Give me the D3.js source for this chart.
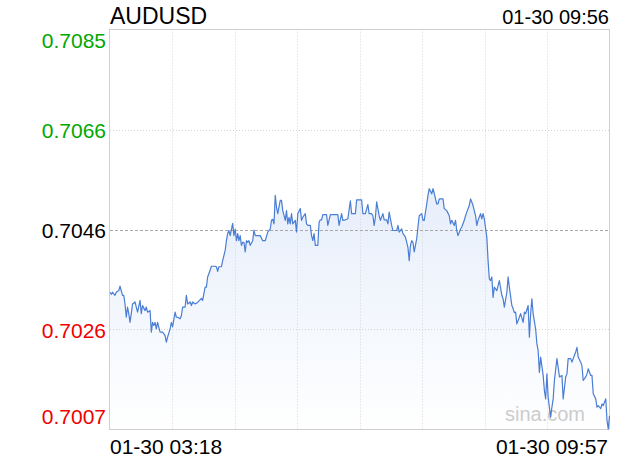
<!DOCTYPE html>
<html>
<head>
<meta charset="utf-8">
<script src="https://cdn.jsdelivr.net/npm/d3@7/dist/d3.min.js"></script>
<style>
  html, body { margin: 0; padding: 0; background: #fff; }
  svg { display: block; font-family: "Liberation Sans", Arial, Helvetica, sans-serif; }
</style>
</head>
<body>
<svg id="chart" width="620" height="460"></svg>
<script>
// ---- data ----
const symbol = "AUDUSD";
const updateTime = "01-30 09:56";
const xTickLabels = ["01-30 03:18", "01-30 09:57"];
const prevClose = 0.7046;
const yTickValues = [0.70852, 0.70656, 0.70460, 0.70264, 0.70068];
const totalMinutes = 399; // 03:18 -> 09:57
const minutes = [0,1,2,4,5,6,7,8,9,10,11,12,13,14,15,16,17,18,20,21,22,24,25,26,28,29,30,32,33,34,35,36,37,38,40,41,42,44,45,46,48,49,50,52,53,54,56,57,58,60,61,62,64,65,66,68,70,73,
74,76,77,78,80,81,84,85,86,87,89,90,92,93,94,95,96,98,99,100,101,102,103,104,105,106,107,108,109,110,111,112,114,115,116,118,120,122,124,126,128,129,130,131,132,133,134,136,137,138,140,141,142,143,144,145,146,148,149,150,152,153,154,156,157,158,160,161,162,163,164,166,167,168,169,170,173,174,176,182,183,185,186,188,190,192,193,196,197,201,202,204,206,207,209,210,211,212,213,215,216,218,219,221,222,223,225,226,229,230,231,233,234,236,238,239,240,241,242,243,245,246,247,249,250,251,253,254,255,257,258,259,261,262,263,266,267,269,271,272,273,275,276,277,278,280,281,283,284,285,287,288,289,290,292,293,294,296,297,298,299,301,302,303,304,305,306,307,309,310,311,313,314,315,317,318,319,321,322,323,
324,325,327,328,330,331,332,334,335,336,337,338,340,341,342,343,344,346,347,348,349,350,352,353,354,355,357,358,359,361,362,364,365,366,368,369,370,372,373,374,376,377,378,380,381,382,384,385,386,388,389,390,392,393,394,396,397,398,399];
const prices = [0.70337,0.70333,0.70337,0.70331,0.70337,0.70339,0.70340,0.70349,0.70340,0.70331,0.70331,0.70314,0.70288,0.70308,0.70295,0.70278,0.70295,0.70314,0.70318,0.70308,0.70298,0.70321,0.70295,0.70311,0.70301,0.70308,0.70298,0.70301,0.70259,0.70278,0.70272,0.70278,0.70265,0.70278,0.70259,0.70259,0.70259,0.70252,0.70239,0.70249,0.70265,0.70278,0.70269,0.70298,0.70288,0.70288,0.70285,0.70291,0.70308,0.70308,0.70331,0.70314,0.70318,0.70311,0.70318,0.70314,0.70317,0.70325,
0.70321,0.70347,0.70347,0.70367,0.70380,0.70388,0.70388,0.70387,0.70378,0.70387,0.70387,0.70399,0.70419,0.70438,0.70452,0.70458,0.70448,0.70472,0.70448,0.70461,0.70438,0.70452,0.70438,0.70448,0.70429,0.70435,0.70435,0.70416,0.70438,0.70435,0.70438,0.70429,0.70438,0.70459,0.70448,0.70448,0.70448,0.70438,0.70438,0.70455,0.70461,0.70478,0.70480,0.70471,0.70527,0.70504,0.70491,0.70517,0.70517,0.70497,0.70478,0.70497,0.70471,0.70484,0.70471,0.70491,0.70471,0.70478,0.70455,0.70491,0.70501,0.70478,0.70484,0.70491,0.70471,0.70468,0.70468,0.70448,0.70438,0.70452,0.70429,0.70429,0.70474,0.70479,0.70479,0.70489,0.70489,0.70468,0.70489,0.70489,0.70468,0.70491,0.70478,0.70479,0.70481,0.70516,0.70491,0.70491,0.70518,0.70518,0.70491,0.70491,0.70509,0.70491,0.70491,0.70487,0.70468,0.70484,0.70514,0.70487,0.70478,0.70491,0.70479,0.70479,0.70471,0.70494,0.70468,0.70458,0.70458,0.70468,0.70455,0.70461,0.70452,0.70445,0.70425,0.70399,0.70429,0.70438,0.70435,0.70416,0.70442,0.70465,0.70487,0.70491,0.70478,0.70478,0.70510,0.70527,0.70540,0.70530,0.70540,0.70531,0.70510,0.70510,0.70520,0.70520,0.70501,0.70497,0.70487,0.70471,0.70478,0.70468,0.70478,0.70458,0.70448,0.70461,0.70465,0.70478,0.70487,0.70494,0.70507,0.70520,0.70514,0.70507,0.70487,0.70468,0.70478,0.70491,0.70481,0.70491,0.70481,0.70445,0.70399,0.70363,0.70360,0.70367,0.70327,0.70347,0.70340,0.70350,0.70360,0.70331,0.70324,0.70308,0.70337,0.70367,0.70347,0.70311,0.70305,0.70297,
0.70298,0.70275,0.70288,0.70295,0.70278,0.70298,0.70295,0.70311,0.70249,0.70295,0.70324,0.70295,0.70265,0.70236,0.70223,0.70180,0.70210,0.70174,0.70144,0.70128,0.70177,0.70131,0.70092,0.70112,0.70128,0.70164,0.70207,0.70190,0.70171,0.70174,0.70128,0.70171,0.70177,0.70207,0.70207,0.70200,0.70207,0.70220,0.70229,0.70210,0.70200,0.70193,0.70164,0.70171,0.70177,0.70187,0.70174,0.70174,0.70138,0.70128,0.70112,0.70115,0.70109,0.70118,0.70115,0.70128,0.70086,0.70069,0.70095];

// ---- layout ----
const W = 620, H = 460;
const m = { left: 110, right: 610, top: 29.5, bottom: 429.5 };
const font = '"Liberation Sans", Arial, Helvetica, sans-serif';

const svg = d3.select("#chart");
const x = d3.scaleLinear().domain([0, totalMinutes]).range([m.left, m.right - 0.5]);
const y = d3.scaleLinear().domain([yTickValues[yTickValues.length - 1], yTickValues[0]]).range([m.bottom, m.top]);

const data = minutes.map((t, i) => ({ t, v: prices[i] }));

// gradient
const defs = svg.append("defs");
const grad = defs.append("linearGradient").attr("id", "areaGrad")
  .attr("gradientUnits", "userSpaceOnUse")
  .attr("x1", 0).attr("x2", 0).attr("y1", m.top).attr("y2", m.bottom);
grad.append("stop").attr("offset", "0%").attr("stop-color", "#d6e3f8");
grad.append("stop").attr("offset", "100%").attr("stop-color", "#ffffff");

// area
svg.append("path").datum(data)
  .attr("fill", "url(#areaGrad)")
  .attr("d", d3.area().x(d => x(d.t)).y0(m.bottom).y1(d => y(d.v)));

// vertical grid (8 divisions)
const xDiv = d3.range(1, 8).map(i => totalMinutes * i / 8);
svg.append("g").selectAll("line").data(xDiv).join("line")
  .attr("x1", d => Math.round(x(d)) + 0.5).attr("x2", d => Math.round(x(d)) + 0.5)
  .attr("y1", m.top).attr("y2", m.bottom)
  .attr("stroke", "#d4d4d4").attr("stroke-width", 1).attr("stroke-dasharray", "1,2");

// horizontal grid
const innerY = yTickValues.slice(1, -1);
svg.append("g").selectAll("line").data(innerY).join("line")
  .attr("x1", m.left).attr("x2", m.right)
  .attr("y1", d => Math.round(y(d)) + 0.5).attr("y2", d => Math.round(y(d)) + 0.5)
  .attr("stroke", d => Math.abs(d - prevClose) < 1e-6 ? "#a8a8a8" : "#d4d4d4")
  .attr("stroke-width", 1)
  .attr("stroke-dasharray", d => Math.abs(d - prevClose) < 1e-6 ? "3,2" : "1,2");

// frame
svg.append("rect")
  .attr("x", m.left - 0.5).attr("y", m.top).attr("width", m.right - m.left).attr("height", m.bottom - m.top)
  .attr("fill", "none").attr("stroke", "#d0d0d0").attr("stroke-width", 1);

// watermark
svg.append("text").attr("x", 585).attr("y", 421).attr("text-anchor", "end")
  .attr("font-size", 20).attr("fill", "#cccccc").style("font-family", font).text("sina.com");

// line
svg.append("path").datum(data)
  .attr("fill", "none").attr("stroke", "#4a7dd4").attr("stroke-width", 1.2)
  .attr("stroke-linejoin", "round")
  .attr("d", d3.line().x(d => x(d.t)).y(d => y(d.v)));

// y labels
svg.append("g").selectAll("text").data(yTickValues).join("text")
  .attr("x", 106).attr("text-anchor", "end")
  .attr("y", (d, i) => i === 0 ? y(d) + 18 : i === yTickValues.length - 1 ? y(d) - 6 : y(d) + 8)
  .attr("font-size", 21).style("font-family", font)
  .attr("fill", d => Math.abs(d - prevClose) < 1e-6 ? "#000" : (d > prevClose ? "#00a800" : "#f00000"))
  .text(d => d.toFixed(4));

// x labels
svg.append("text").attr("x", m.left).attr("y", 454).attr("text-anchor", "start")
  .attr("font-size", 21).style("font-family", font).attr("fill", "#000").text(xTickLabels[0]);
svg.append("text").attr("x", 608).attr("y", 454).attr("text-anchor", "end")
  .attr("font-size", 21).style("font-family", font).attr("fill", "#000").text(xTickLabels[1]);

// title + update time
svg.append("text").attr("x", m.left).attr("y", 24)
  .attr("font-size", 23).style("font-family", font).attr("fill", "#000").text(symbol);
svg.append("text").attr("x", 609).attr("y", 24).attr("text-anchor", "end")
  .attr("font-size", 20).style("font-family", font).attr("fill", "#000").text(updateTime);
</script>
</body>
</html>
